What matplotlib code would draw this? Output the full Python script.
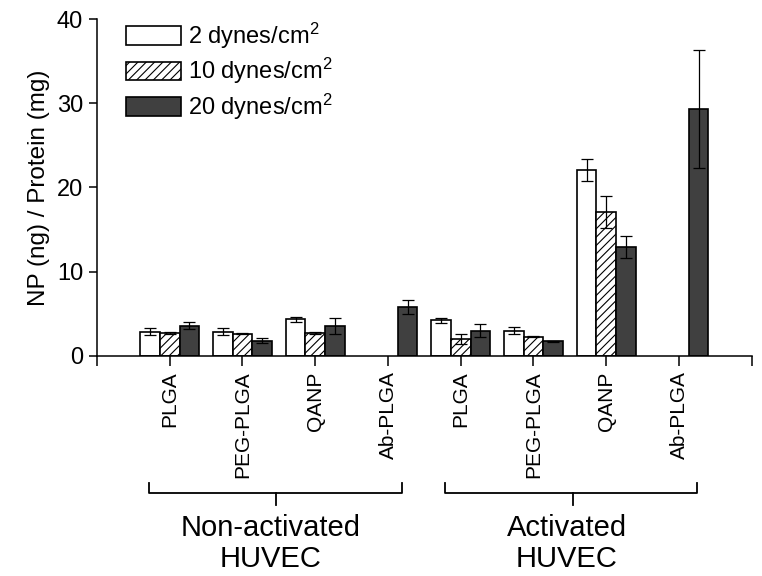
import matplotlib
matplotlib.use('Agg')
import matplotlib.pyplot as plt
import matplotlib.transforms as mtransforms
import numpy as np

plt.rcParams['font.family'] = ['Liberation Sans', 'DejaVu Sans']
plt.rcParams['mathtext.default'] = 'regular'
plt.rcParams['hatch.linewidth'] = 0.8

# data
categories = ['PLGA', 'PEG-PLGA', 'QANP', 'Ab-PLGA', 'PLGA', 'PEG-PLGA', 'QANP', 'Ab-PLGA']
shear_labels = ['2 dynes/cm$^2$', '10 dynes/cm$^2$', '20 dynes/cm$^2$']
low = [2.9, 2.9, 4.35, np.nan, 4.25, 3.0, 22.05, np.nan]
low_err = [0.4, 0.4, 0.3, np.nan, 0.3, 0.4, 1.3, np.nan]
mid = [2.7, 2.65, 2.7, np.nan, 2.0, 2.3, 17.1, np.nan]
mid_err = [0.1, 0.1, 0.1, np.nan, 0.55, 0.05, 1.9, np.nan]
high = [3.6, 1.8, 3.55, 5.8, 3.0, 1.75, 12.95, 29.3]
high_err = [0.45, 0.3, 0.9, 0.85, 0.75, 0.05, 1.35, 7.0]
groups = ['Non-activated\nHUVEC', 'Activated\nHUVEC']

fig = plt.figure(figsize=(7.62, 5.76), dpi=100)
ax = fig.add_axes([0.1273, 0.382, 0.9865 - 0.1273, 0.967 - 0.382])

x = np.arange(1, len(categories) + 1)
w = 0.27
styles = [dict(color='white', hatch=None),
          dict(color='white', hatch='////'),
          dict(color='#404040', hatch=None)]
series = [(low, low_err), (mid, mid_err), (high, high_err)]

for i, ((vals, errs), st, lab) in enumerate(zip(series, styles, shear_labels)):
    pos = x + (i - 1) * w
    ax.bar(pos, vals, w, color=st['color'], hatch=st['hatch'], edgecolor='black',
           linewidth=1.2, label=lab, zorder=2)
    ax.errorbar(pos, vals, yerr=errs, fmt='none', ecolor='black', elinewidth=0.9,
                capsize=4, capthick=0.9, zorder=3)

ax.set_xlim(0, 9)
ax.set_ylim(0, 40)
ax.set_yticks([0, 10, 20, 30, 40])
ax.set_xticks(np.arange(0, 10))
ax.set_xticklabels([''] + categories + [''], rotation=90, fontsize=15)
ax.tick_params(axis='y', labelsize=17, length=6, width=1.1, direction='out', pad=4)
ax.tick_params(axis='x', length=7, width=1.1, direction='out', pad=4)
for s in ['top', 'right']:
    ax.spines[s].set_visible(False)
for s in ['left', 'bottom']:
    ax.spines[s].set_linewidth(1.1)
ax.set_ylabel('NP (ng) / Protein (mg)', fontsize=17.5, labelpad=5)

ax.legend(loc='upper left', bbox_to_anchor=(0.044, 0.995), frameon=False, fontsize=17,
          handlelength=2.35, handleheight=0.85, handletextpad=0.3, labelspacing=0.22,
          borderpad=0, borderaxespad=0)

# brackets under the tick labels
trans = mtransforms.blended_transform_factory(ax.transData, fig.transFigure)
brackets = [(0.72, 4.19, 2.46), (4.78, 8.25, 6.54)]
for (x0, x1, xc), g in zip(brackets, groups):
    ax.plot([x0, x0, x1, x1], [0.161, 0.144, 0.144, 0.161], color='black', lw=1.3,
            transform=trans, clip_on=False)
    ax.plot([xc, xc], [0.144, 0.124], color='black', lw=1.3, transform=trans, clip_on=False)
    ax.text(xc - 0.08, 0.108, g, transform=trans, ha='center', va='top', fontsize=21,
            linespacing=1.15)

plt.savefig('out.png', dpi=100)
